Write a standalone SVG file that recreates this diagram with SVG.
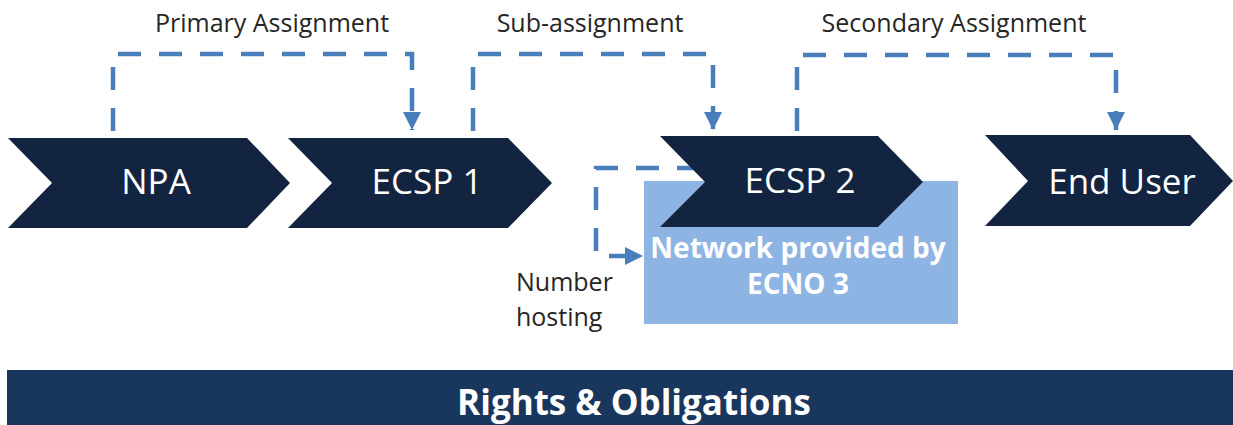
<svg xmlns="http://www.w3.org/2000/svg" width="1233" height="425" viewBox="0 0 1233 425">
  <style>
    .chev { fill: #12243F; }
    .chev-label { font-family: "Open Sans", "Noto Sans", sans-serif; font-size: 35px; fill: #FFFFFF; text-anchor: middle; }
    .label { font-family: "Open Sans", "Noto Sans", sans-serif; font-size: 25px; fill: #262626; }
    .dash { fill: none; stroke: #4A7EBB; stroke-width: 4.5; stroke-dasharray: 23 18; }
    .net-label { font-family: "Open Sans", "Noto Sans", sans-serif; font-size: 28px; font-weight: bold; fill: #FFFFFF; text-anchor: middle; }
    .bar-label { font-family: "Open Sans", "Noto Sans", sans-serif; font-size: 35px; font-weight: bold; fill: #FFFFFF; text-anchor: middle; }
  </style>
  <defs>
    <marker id="arrow" viewBox="0 0 10 10" refX="10" refY="5" markerWidth="4" markerHeight="4" markerUnits="strokeWidth" orient="auto">
      <path d="M0,0 L10,5 L0,10 Z" fill="#4A7EBB"/>
    </marker>
  </defs>
  <rect width="1233" height="425" fill="#FFFFFF"/>

  <!-- network box behind ECSP 2 -->
  <g id="network-ecno3">
    <rect x="644" y="181" width="314" height="143" fill="#8EB4E3"/>
    <text class="net-label" x="798" y="258">Network provided by</text>
    <text class="net-label" x="798" y="294">ECNO 3</text>
  </g>

  <!-- dashed assignment connectors -->
  <g id="connectors">
    <path class="dash" d="M113,131 V54 H412 V130" marker-end="url(#arrow)"/>
    <path class="dash" d="M473,131 V54 H713 V130" marker-end="url(#arrow)"/>
    <path class="dash" d="M797,131 V55 H1116 V130" marker-end="url(#arrow)"/>
    <path class="dash" d="M700,168 H596 V256 H643" marker-end="url(#arrow)"/>
  </g>

  <g id="node-npa">
    <polygon class="chev" points="8,138 247,138 290,183 247,228 8,228 52,183"/>
    <text class="chev-label" x="156" y="194">NPA</text>
  </g>
  <g id="node-ecsp1">
    <polygon class="chev" points="288,138 508,138 552,183 508,228 288,228 332,183"/>
    <text class="chev-label" x="427" y="194">ECSP 1</text>
  </g>
  <g id="node-ecsp2">
    <polygon class="chev" points="660,136 878,136 923,182 878,227 660,227 705,182"/>
    <text class="chev-label" x="800" y="193">ECSP 2</text>
  </g>
  <g id="node-end-user">
    <polygon class="chev" points="985,135 1190,135 1233,181 1190,226 985,226 1028,181"/>
    <text class="chev-label" x="1122" y="194">End User</text>
  </g>

  <g id="labels">
    <text class="label" x="272" y="32" text-anchor="middle">Primary Assignment</text>
    <text class="label" x="590" y="32" text-anchor="middle">Sub-assignment</text>
    <text class="label" x="954" y="32" text-anchor="middle">Secondary Assignment</text>
    <text class="label" x="516" y="291">Number</text>
    <text class="label" x="516" y="326">hosting</text>
  </g>

  <g id="rights-bar">
    <rect x="7" y="370" width="1226" height="55" fill="#19365C"/>
    <text class="bar-label" x="634" y="415">Rights &amp; Obligations</text>
  </g>
</svg>
